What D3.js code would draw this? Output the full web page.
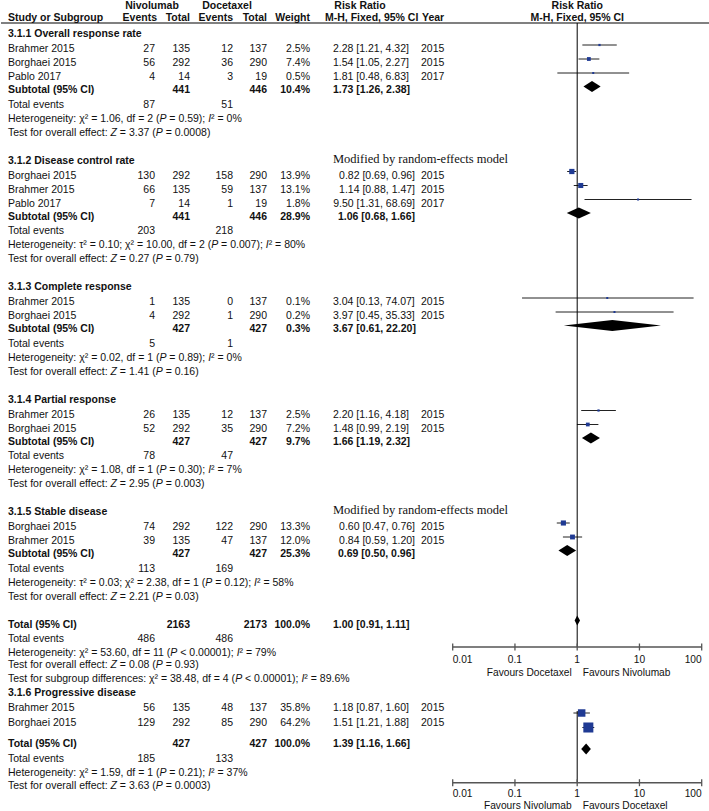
<!DOCTYPE html>
<html><head><meta charset="utf-8">
<script src="https://cdn.jsdelivr.net/npm/d3@7/dist/d3.min.js"></script>
<style>
body{margin:0;background:#fff;}
text{font-family:"Liberation Sans",Arial,sans-serif;font-size:10.5px;fill:#111;}
.b{font-weight:bold;}
.serif{font-family:"Liberation Serif","Times New Roman",serif;font-size:12.5px;}
.ax{font-size:10.2px;}
</style></head>
<body><svg id="c" width="709" height="811"></svg>
<script>
// ---------- DATA ----------
const sectionTitles = ["3.1.1 Overall response rate","3.1.2 Disease control rate","3.1.3 Complete response","3.1.4 Partial response","3.1.5 Stable disease","3.1.6 Progressive disease"];
const sectionModified = [false,true,false,false,true,false];
const studySection = [0,0,0,1,1,1,2,2,3,3,4,4,5,5];
const studyLabels = ["Brahmer 2015","Borghaei 2015","Pablo 2017","Borghaei 2015","Brahmer 2015","Pablo 2017","Brahmer 2015","Borghaei 2015","Brahmer 2015","Borghaei 2015","Borghaei 2015","Brahmer 2015","Brahmer 2015","Borghaei 2015"];
const nivoEvents = [27,56,4,130,66,7,1,4,26,52,74,39,56,129];
const nivoTotal  = [135,292,14,292,135,14,135,292,135,292,292,135,135,292];
const doceEvents = [12,36,3,158,59,1,0,1,12,35,122,47,48,85];
const doceTotal  = [137,290,19,290,137,19,137,290,137,290,290,137,137,290];
const weights    = [2.5,7.4,0.5,13.9,13.1,1.8,0.1,0.2,2.5,7.2,13.3,12.0,35.8,64.2];
const rr     = [2.28,1.54,1.81,0.82,1.14,9.50,3.04,3.97,2.20,1.48,0.60,0.84,1.18,1.51];
const rrLow  = [1.21,1.05,0.48,0.69,0.88,1.31,0.13,0.45,1.16,0.99,0.47,0.59,0.87,1.21];
const rrHigh = [4.32,2.27,6.83,0.96,1.47,68.69,74.07,35.33,4.18,2.19,0.76,1.20,1.60,1.88];
const years  = [2015,2015,2017,2015,2015,2017,2015,2015,2015,2015,2015,2015,2015,2015];

const subLabels    = ["Subtotal (95% CI)","Subtotal (95% CI)","Subtotal (95% CI)","Subtotal (95% CI)","Subtotal (95% CI)","Total (95% CI)"];
const subNivoTotal = [441,441,427,427,427,427];
const subDoceTotal = [446,446,427,427,427,427];
const subWeight    = [10.4,28.9,0.3,9.7,25.3,100.0];
const subRR   = [1.73,1.06,3.67,1.66,0.69,1.39];
const subLow  = [1.26,0.68,0.61,1.19,0.50,1.16];
const subHigh = [2.38,1.66,22.20,2.32,0.96,1.66];
const subNivoEvents = [87,203,5,78,113,185];
const subDoceEvents = [51,218,1,47,169,133];
const hetTexts = [
 "Heterogeneity: χ² = 1.06, df = 2 (*P* = 0.59); *I*² = 0%",
 "Heterogeneity: τ² = 0.10; χ² = 10.00, df = 2 (*P* = 0.007); *I*² = 80%",
 "Heterogeneity: χ² = 0.02, df = 1 (*P* = 0.89); *I*² = 0%",
 "Heterogeneity: χ² = 1.08, df = 1 (*P* = 0.30); *I*² = 7%",
 "Heterogeneity: τ² = 0.03; χ² = 2.38, df = 1 (*P* = 0.12); *I*² = 58%",
 "Heterogeneity: χ² = 1.59, df = 1 (*P* = 0.21); *I*² = 37%"];
const testTexts = [
 "Test for overall effect: *Z* = 3.37 (*P* = 0.0008)",
 "Test for overall effect: *Z* = 0.27 (*P* = 0.79)",
 "Test for overall effect: *Z* = 1.41 (*P* = 0.16)",
 "Test for overall effect: *Z* = 2.95 (*P* = 0.003)",
 "Test for overall effect: *Z* = 2.21 (*P* = 0.03)",
 "Test for overall effect: *Z* = 3.63 (*P* = 0.0003)"];

const overallNivoTotal = 2163, overallDoceTotal = 2173, overallWeight = 100.0;
const overallRR = 1.00, overallLow = 0.91, overallHigh = 1.11;
const overallNivoEvents = 486, overallDoceEvents = 486;
const overallHet = "Heterogeneity: χ² = 53.60, df = 11 (*P* < 0.00001); *I*² = 79%";
const overallTest = "Test for overall effect: *Z* = 0.08 (*P* = 0.93)";
const subgroupTest = "Test for subgroup differences: χ² = 38.48, df = 4 (*P* < 0.00001); *I*² = 89.6%";
const modifiedNote = "Modified by random-effects model";

const tickValues = [0.01,0.1,1,10,100];
const tickLabels = ["0.01","0.1","1","10","100"];
const favoursTop = ["Favours Docetaxel","Favours Nivolumab"];
const favoursBottom = ["Favours Nivolumab","Favours Docetaxel"];

// ---------- DRAW ----------
const svg = d3.select("#c");
const x = d3.scaleLog().domain([0.01,100]).range([452.7,701.7]);
const fmt2 = d3.format(".2f");
const fmtW = d => d.toFixed(1) + "%";
const ciText = (m,l,h) => fmt2(m) + " [" + fmt2(l) + ", " + fmt2(h) + "]";
const sqTop = d3.scaleSqrt().domain([0,100]).range([0,14]);
const sqBot = d3.scaleSqrt().domain([0,100]).range([0,12.5]);

const COL = {label:8, nE:155, nT:190, dE:233, dT:267, w:310, rr:333, rrMod:415, yr:421};
const BASE = 4; // baseline offset from row centre

function txt(xp, y, s, anchor, cls){
  const t = svg.append("text").attr("x",xp).attr("y",y+BASE).attr("text-anchor",anchor||"start");
  if(cls) t.attr("class",cls);
  const parts = String(s).split("*");
  parts.forEach((p,i)=>{ if(p.length) t.append("tspan").style("font-style", i%2 ? "italic":"normal").text(p); });
  return t;
}

// header
svg.append("line").attr("x1",1).attr("x2",709).attr("y1",23).attr("y2",23).attr("stroke","#808080").attr("stroke-width",2);
txt(152,5,"Nivolumab","middle","b");
txt(227,5,"Docetaxel","middle","b");
txt(360,5,"Risk Ratio","middle","b");
txt(577.3,5,"Risk Ratio","middle","b");
txt(COL.label,17,"Study or Subgroup","start","b");
txt(157,17,"Events","end","b");
txt(COL.nT,17,"Total","end","b");
txt(COL.dE,17,"Events","end","b");
txt(COL.dT,17,"Total","end","b");
txt(COL.w,17,"Weight","end","b");
txt(325,17,"M-H, Fixed, 95% CI","start","b");
txt(422,17,"Year","start","b");
txt(577.3,17,"M-H, Fixed, 95% CI","middle","b");

function drawCI(yc, lo, hi){
  svg.append("line").attr("x1",x(lo)).attr("x2",x(hi)).attr("y1",yc).attr("y2",yc).attr("stroke","#222").attr("stroke-width",1);
}
function drawSquare(yc, m, w, sc){
  const s = Math.max(2, sc(w));
  svg.append("rect").attr("x",x(m)-s/2).attr("y",yc-s/2).attr("width",s).attr("height",s).attr("fill","#1f3a93");
}
function drawDiamond(yc, m, lo, hi, hh){
  svg.append("path").attr("d",`M${x(lo)},${yc} L${x(m)},${yc-hh} L${x(hi)},${yc} L${x(m)},${yc+hh} Z`).attr("fill","#000");
}

let y = 33;
const topOff = -3, botOff = 6;
for(let s=0; s<6; s++){
  const last = s===5;
  const off = last ? botOff : topOff;
  txt(COL.label, y, sectionTitles[s], "start", "b");
  if(sectionModified[s]) txt(333, y-1, modifiedNote, "start", "serif");
  y += last ? 15.5 : 15;
  const idx = studySection.map((v,i)=>v===s?i:-1).filter(i=>i>=0);
  idx.forEach((i,k)=>{
    if(k>0) y += last ? 14.5 : 14;
    txt(COL.label,y,studyLabels[i]);
    txt(COL.nE,y,nivoEvents[i],"end");
    txt(COL.nT,y,nivoTotal[i],"end");
    txt(COL.dE,y,doceEvents[i],"end");
    txt(COL.dT,y,doceTotal[i],"end");
    txt(COL.w,y,fmtW(weights[i]),"end");
    if(sectionModified[s]) txt(COL.rrMod,y,ciText(rr[i],rrLow[i],rrHigh[i]),"end");
    else txt(COL.rr,y,ciText(rr[i],rrLow[i],rrHigh[i]));
    txt(COL.yr,y,years[i]);
    drawCI(y+off, rrLow[i], rrHigh[i]);
    drawSquare(y+off, rr[i], weights[i], last ? sqBot : sqTop);
  });
  y += last ? 21.5 : 13;
  txt(COL.label,y,subLabels[s],"start","b");
  txt(COL.nT,y,subNivoTotal[s],"end","b");
  txt(COL.dT,y,subDoceTotal[s],"end","b");
  txt(COL.w,y,fmtW(subWeight[s]),"end","b");
  if(sectionModified[s]) txt(COL.rrMod,y,ciText(subRR[s],subLow[s],subHigh[s]),"end","b");
  else txt(COL.rr,y,ciText(subRR[s],subLow[s],subHigh[s]),"start","b");
  drawDiamond(y+off+(last?0:0.5), subRR[s], subLow[s], subHigh[s], 5.5);
  y += 14.5;
  txt(COL.label,y,"Total events");
  txt(COL.nE,y,subNivoEvents[s],"end");
  txt(COL.dE,y,subDoceEvents[s],"end");
  y += 14;
  txt(COL.label,y,hetTexts[s]);
  y += last ? 13.5 : 14;
  txt(COL.label,y,testTexts[s]);
  if(s<4){ y += 28; }
  else if(s===4){
    y += 28;
    txt(COL.label,y,"Total (95% CI)","start","b");
    txt(COL.nT,y,overallNivoTotal,"end","b");
    txt(COL.dT,y,overallDoceTotal,"end","b");
    txt(COL.w,y,fmtW(overallWeight),"end","b");
    txt(COL.rr,y,ciText(overallRR,overallLow,overallHigh),"start","b");
    drawDiamond(y+topOff, overallRR, overallLow, overallHigh, 5);
    y += 14;
    txt(COL.label,y,"Total events");
    txt(COL.nE,y,overallNivoEvents,"end");
    txt(COL.dE,y,overallDoceEvents,"end");
    y += 14;
    txt(COL.label,y,overallHet);
    y += 12.5;
    txt(COL.label,y,overallTest);
    y += 14;
    txt(COL.label,y,subgroupTest);
    y += 13.5;
  }
}

// axes
function drawAxis(ay, yTop, fav, tickGap, favGap){
  svg.append("line").attr("x1",x(1)).attr("x2",x(1)).attr("y1",yTop).attr("y2",ay).attr("stroke","#000").attr("stroke-width",1);
  svg.append("line").attr("x1",x(0.01)).attr("x2",x(100)).attr("y1",ay).attr("y2",ay).attr("stroke","#555").attr("stroke-width",1.5);
  tickValues.forEach((v,i)=>{
    svg.append("line").attr("x1",x(v)).attr("x2",x(v)).attr("y1",ay-3.5).attr("y2",ay+3.5).attr("stroke","#555").attr("stroke-width",1.3);
    const a = i===0 ? "start" : (i===tickValues.length-1 ? "end" : "middle");
    txt(x(v), ay+tickGap, tickLabels[i], a, "ax");
  });
  txt(x(1)-5.5, ay+favGap, fav[0], "end", "ax");
  txt(x(1)+5.5, ay+favGap, fav[1], "start", "ax");
}
drawAxis(647, 23, favoursTop, 12, 24.5);
drawAxis(782.7, 711, favoursBottom, 10.3, 22);
</script></body></html>
